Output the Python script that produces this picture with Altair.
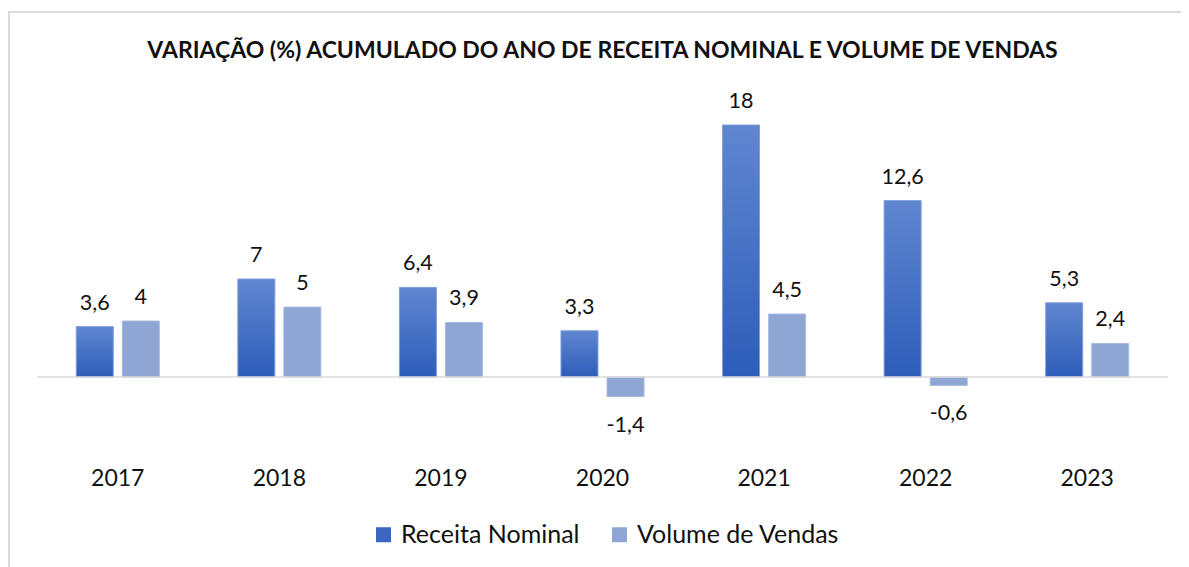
import altair as alt
import pandas as pd

years = ["2017", "2018", "2019", "2020", "2021", "2022", "2023"]
receita = [3.6, 7.0, 6.4, 3.3, 18.0, 12.6, 5.3]
volume = [4.0, 5.0, 3.9, -1.4, 4.5, -0.6, 2.4]
series = ["Receita Nominal", "Volume de Vendas"]

rows = []
for y, r, v in zip(years, receita, volume):
    rows.append({"year": y, "serie": series[0], "value": r})
    rows.append({"year": y, "serie": series[1], "value": v})
df = pd.DataFrame(rows)
df["label"] = df["value"].map(lambda v: f"{v:g}".replace(".", ","))

FONT = "Lato"
W, H = 1131, 364

x_enc = alt.X("year:N", sort=years, title=None,
              scale=alt.Scale(paddingInner=0.486, paddingOuter=0.243),
              axis=alt.Axis(domain=False, ticks=False, labelFontSize=23, labelFont=FONT,
                            labelColor="#111111", labelPadding=6, labelAngle=0, grid=False))
xo_enc = alt.XOffset("serie:N", sort=series, scale=alt.Scale(paddingInner=0.196, paddingOuter=0))
y_enc = alt.Y("value:Q", scale=alt.Scale(domain=[-6, 20], nice=False, zero=False), axis=None)

base = alt.Chart(df)

grad = {"gradient": "linear", "x1": 0, "y1": 0, "x2": 0, "y2": 1,
        "stops": [{"offset": 0, "color": "#6086D0"}, {"offset": 1, "color": "#2D5DB9"}]}

bars_r = base.transform_filter(f"datum.serie == '{series[0]}'").mark_bar(
    fill=grad, stroke="#7F9EDC", strokeWidth=1).encode(
    x=x_enc, xOffset=xo_enc, y=y_enc, y2=alt.datum(0))
bars_v = base.transform_filter(f"datum.serie == '{series[1]}'").mark_bar(
    fill="#8FA5D4", stroke="#A8BBE2", strokeWidth=1).encode(
    x=x_enc, xOffset=xo_enc, y=y_enc, y2=alt.datum(0))

legend_layer = base.mark_point(opacity=0, filled=True).encode(
    x=x_enc, xOffset=xo_enc, y=y_enc,
    color=alt.Color("serie:N", sort=series,
                    scale=alt.Scale(domain=series, range=["#3B67C2", "#8FA5D4"]),
                    legend=alt.Legend(title=None, orient="none", legendX=334, legendY=425,
                                      direction="horizontal", padding=0,
                                      symbolType="square", symbolSize=225, symbolOpacity=1,
                                      symbolStrokeWidth=0, labelFontSize=25, labelFont=FONT,
                                      labelColor="#111111", labelOffset=5, columnPadding=27,
                                      labelLimit=400)))

zero = alt.Chart(pd.DataFrame({"z": [0]})).mark_rule(color="#D9D9D9", strokeWidth=1.5).encode(
    y=alt.datum(0))

pos_lbl = base.transform_filter("datum.value >= 0").mark_text(
    baseline="alphabetic", dy=-17, fontSize=21.5, font=FONT, color="#111111").encode(
    x=x_enc, xOffset=xo_enc, y=y_enc, text="label:N")
neg_lbl = base.transform_filter("datum.value < 0").mark_text(
    baseline="top", dy=18, fontSize=21.5, font=FONT, color="#111111").encode(
    x=x_enc, xOffset=xo_enc, y=y_enc, text="label:N")

border_top = alt.Chart(pd.DataFrame({"z": [0]})).mark_rule(color="#D9D9D9", strokeWidth=2).encode(
    x=alt.value(-29), x2=alt.value(W + 20), y=alt.value(-85))
border_left = alt.Chart(pd.DataFrame({"z": [0]})).mark_rule(color="#D9D9D9", strokeWidth=2).encode(
    x=alt.value(-28), y=alt.value(-85), y2=alt.value(H + 120))

chart = alt.layer(bars_r, bars_v, legend_layer, pos_lbl, neg_lbl, zero, border_top, border_left).properties(
    width=W, height=H,
    title=alt.TitleParams("VARIAÇÃO (%) ACUMULADO DO ANO DE RECEITA NOMINAL E VOLUME DE VENDAS",
                          fontSize=23, fontWeight="bold", font=FONT, color="#111111",
                          anchor="middle", offset=0, dy=52),
    autosize=alt.AutoSizeParams(type="none"),
    padding={"left": 29, "top": 89, "right": 13, "bottom": 106},
).configure_view(stroke=None)

chart.save("out.html", embed_options={"renderer": "svg", "actions": False})
